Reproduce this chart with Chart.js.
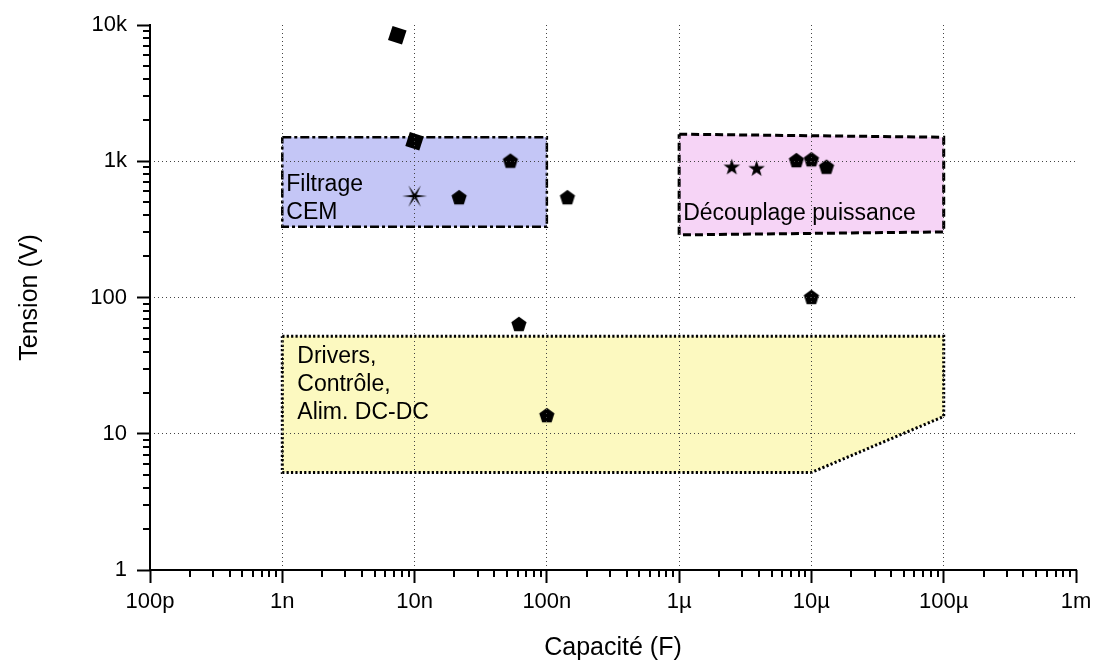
<!DOCTYPE html>
<html>
<head>
<meta charset="utf-8">
<script src="https://cdn.jsdelivr.net/npm/chart.js@4.4.1/dist/chart.umd.min.js"></script>
<style>
  html, body { margin: 0; padding: 0; background: #fff; }
</style>
</head>
<body>
<canvas id="chart" width="1098" height="665"></canvas>
<script>
// axis decades
const xTickValues = [1e-10, 1e-9, 1e-8, 1e-7, 1e-6, 1e-5, 1e-4, 1e-3];
const xTickLabels = ["100p", "1n", "10n", "100n", "1µ", "10µ", "100µ", "1m"];
const yTickValues = [1, 10, 100, 1000, 10000];
const yTickLabels = ["1", "10", "100", "1k", "10k"];

// components (capacity in F, voltage in V)
const pentagonC = [5.3e-8, 2.17e-8, 1.43e-7, 6.15e-8, 1e-7, 1e-5, 7.7e-6, 1e-5, 1.3e-5];
const pentagonV = [1010, 545, 545, 64, 13.7, 101, 1020, 1035, 912];
const squareC = [7.4e-9, 1e-8];
const squareV = [8400, 1400];
const starC = [2.5e-6, 3.85e-6];
const starV = [912, 890];
const asteriskC = [1e-8];
const asteriskV = [555];

// application zones, polygon corners
const cemZoneC = [1e-9, 1e-7, 1e-7, 1e-9, 1e-9];
const cemZoneV = [1500, 1500, 330, 330, 1500];
const decZoneC = [1e-6, 1e-4, 1e-4, 1e-6, 1e-6];
const decZoneV = [1580, 1500, 303, 288, 1580];
const drvZoneC = [1e-9, 1e-4, 1e-4, 1e-5, 1e-9, 1e-9];
const drvZoneV = [52, 52, 13.4, 5.2, 5.2, 52];

const FONT = "Arial, 'Liberation Sans', sans-serif";

const toPoints = (xs, ys) => xs.map((x, i) => ({x: x, y: ys[i]}));

// small canvases used as marker shapes
function starShape(size, n, rOut, rIn, startDeg, shiftY) {
  const c = document.createElement("canvas");
  c.width = size;
  c.height = size;
  const g = c.getContext("2d");
  const cx = size / 2, cy = size / 2 + shiftY;
  g.fillStyle = "#000";
  g.beginPath();
  const steps = rIn ? n * 2 : n;
  for (let i = 0; i < steps; i++) {
    const r = rIn && i % 2 ? rIn : rOut;
    const a = (startDeg + i * 360 / steps) * Math.PI / 180;
    const px = cx + r * Math.cos(a), py = cy + r * Math.sin(a);
    if (i === 0) g.moveTo(px, py); else g.lineTo(px, py);
  }
  g.closePath();
  g.fill();
  return c;
}
const pentagonImg = starShape(18, 5, 8, 0, -90, 0.8);
const starImg = starShape(19, 5, 8.7, 3.4, -90, 0.8);
const asteriskImg = starShape(28, 6, 12.5, 2.3, 0, 0);

// minor ticks, axis lines + zone captions
const decor = {
  id: "decor",
  afterDraw(chart) {
    const {ctx, scales: {x, y}} = chart;
    ctx.save();
    ctx.strokeStyle = "#000";
    ctx.lineWidth = 2;
    ctx.beginPath();
    // axis lines
    ctx.moveTo(x.left, y.top - 1);
    ctx.lineTo(x.left, y.bottom);
    ctx.lineTo(x.right + 1, y.bottom);
    for (let e = -10; e < -3; e++) {
      for (let k = 2; k <= 9; k++) {
        const px = Math.round(x.getPixelForValue(k * Math.pow(10, e)));
        ctx.moveTo(px, y.bottom);
        ctx.lineTo(px, y.bottom + 7);
      }
    }
    for (let e = 0; e < 4; e++) {
      for (let k = 2; k <= 9; k++) {
        const py = Math.round(y.getPixelForValue(k * Math.pow(10, e)));
        ctx.moveTo(x.left - 7, py);
        ctx.lineTo(x.left, py);
      }
    }
    ctx.stroke();

    ctx.fillStyle = "#000";
    ctx.font = "23px " + FONT;
    ctx.textBaseline = "middle";
    ctx.textAlign = "left";
    const captions = [
      {lines: ["Filtrage", "CEM"], c: 1e-9, v: 670, dx: 4},
      {lines: ["Découplage puissance"], c: 1e-6, v: 410, dx: 4},
      {lines: ["Drivers,", "Contrôle,", "Alim. DC-DC"], c: 1e-9, v: 36.6, dx: 15}
    ];
    captions.forEach(cap => {
      const px = x.getPixelForValue(cap.c) + cap.dx;
      const py = y.getPixelForValue(cap.v);
      cap.lines.forEach((t, i) => ctx.fillText(t, px, py + i * 28));
    });
    ctx.restore();
  }
};

const zone = (label, xs, ys, fillColor, dash, width) => ({
  label: label,
  data: toPoints(xs, ys),
  showLine: true,
  fill: "shape",
  backgroundColor: fillColor,
  borderColor: "#000",
  borderWidth: width,
  borderDash: dash,
  pointRadius: 0,
  tension: 0,
  order: 10
});

const marker = (label, xs, ys, style, radius, rotation) => ({
  label: label,
  data: toPoints(xs, ys),
  showLine: false,
  pointStyle: style,
  pointRadius: radius,
  pointRotation: rotation || 0,
  pointBackgroundColor: "#000",
  pointBorderWidth: 0,
  order: 0
});

const gridColor = n => c => (c.index === 0 || c.index === n - 1) ? "rgba(0,0,0,0)" : "#444";

new Chart(document.getElementById("chart"), {
  type: "line",
  data: {
    datasets: [
      marker("pentagon", pentagonC, pentagonV, pentagonImg, 5),
      marker("square", squareC, squareV, "rect", 10.4, 18),
      marker("star", starC, starV, starImg, 5),
      marker("asterisk", asteriskC, asteriskV, asteriskImg, 5),
      zone("Filtrage CEM", cemZoneC, cemZoneV, "#c4c6f6", [9, 3, 3, 3], 2.5),
      zone("Découplage puissance", decZoneC, decZoneV, "#f6d4f6", [8, 4], 3),
      zone("Drivers", drvZoneC, drvZoneV, "#fcf9c0", [2.2, 2.2], 3)
    ]
  },
  options: {
    responsive: false,
    animation: false,
    layout: { padding: { left: 0, top: 25, right: 22, bottom: 0 } },
    plugins: { legend: { display: false }, tooltip: { enabled: false } },
    scales: {
      x: {
        type: "logarithmic",
        min: 1e-10,
        max: 1e-3,
        afterBuildTicks: s => { s.ticks = xTickValues.map(v => ({value: v})); },
        afterFit: s => { s.height = 95; },
        ticks: {
          callback: (v, i) => xTickLabels[i],
          autoSkip: false,
          maxRotation: 0,
          color: "#000",
          padding: 6,
          font: { size: 22, family: FONT }
        },
        grid: {
          z: 1,
          color: gridColor(xTickValues.length),
          lineWidth: 1,
          tickLength: 13,
          tickWidth: 2,
          tickColor: "#000"
        },
        border: { display: false, dash: [1, 3] },
        title: {
          display: true,
          text: "Capacité (F)",
          color: "#000",
          font: { size: 25, family: FONT },
          padding: { top: 0, bottom: 2 }
        }
      },
      y: {
        type: "logarithmic",
        min: 1,
        max: 10000,
        afterBuildTicks: s => { s.ticks = yTickValues.map(v => ({value: v})); },
        afterFit: s => { s.width = 150; },
        ticks: {
          callback: (v, i) => yTickLabels[i],
          autoSkip: false,
          color: "#000",
          padding: 10,
          font: { size: 22, family: FONT }
        },
        grid: {
          z: 1,
          color: gridColor(yTickValues.length),
          lineWidth: 1,
          tickLength: 13,
          tickWidth: 2,
          tickColor: "#000"
        },
        border: { display: false, dash: [1, 3] },
        title: {
          display: true,
          text: "Tension (V)",
          color: "#000",
          font: { size: 25, family: FONT },
          padding: { top: 15, bottom: 0 }
        }
      }
    }
  },
  plugins: [decor]
});
</script>
</body>
</html>
